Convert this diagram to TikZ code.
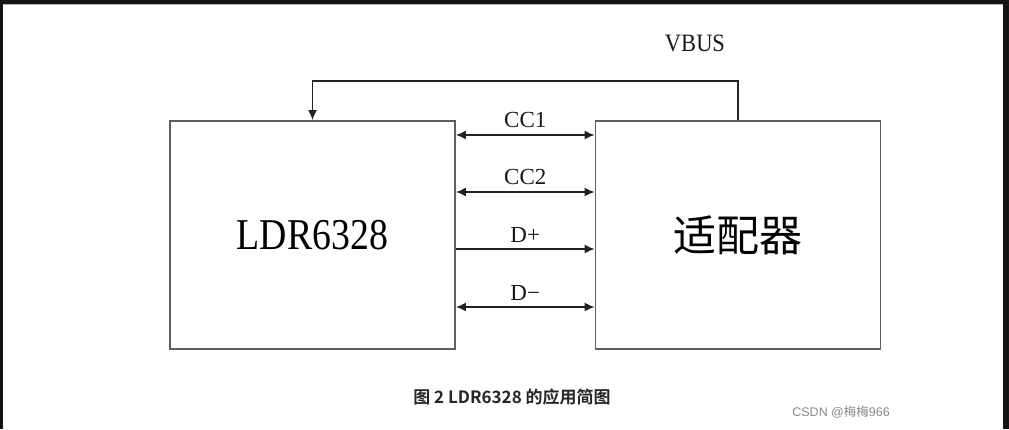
\documentclass[tikz,border=0pt]{standalone}
\usepackage{fontspec}
\setmainfont{Liberation Serif}
\newfontfamily\cjk{Noto Sans CJK SC}
\newfontfamily\cjkb{Noto Sans CJK SC Bold}
\newfontfamily\wmfont{Liberation Sans}
\usetikzlibrary{arrows.meta}
\definecolor{boxgray}{HTML}{5E5E5E}
\definecolor{linedark}{HTML}{222222}
\definecolor{frame}{HTML}{141414}
\definecolor{wm}{HTML}{8A8A8A}
\tikzset{
  blockbox/.style={draw=boxgray, line width=1.8pt, minimum width=285pt, minimum height=228pt, inner sep=0pt},
  sig/.style={draw=linedark, line width=1.6pt},
  lbl/.style={font=\fontsize{23}{23}\selectfont, inner sep=0pt, text=black!90},
  twoway/.style={{Latex[length=10pt,width=9pt]}-{Latex[length=10pt,width=9pt]}},
  oneway/.style={-{Latex[length=10pt,width=9pt]}}
}
\begin{document}
\begin{tikzpicture}[x=1pt,y=-1pt]
\useasboundingbox (0,0) rectangle (1009,429);
\fill[white] (0,0) rectangle (1009,429);
\fill[frame] (0,0) rectangle (1009,4);
\fill[frame] (0,0) rectangle (3,429);
\fill[frame] (1003,0) rectangle (1009,429);
\draw[gray!60, line width=0.6pt] (3,4.5) -- (1003,4.5);

\node[blockbox] (L) at (312.5,235) {\fontsize{44}{44}\selectfont\scalebox{0.86}[1]{LDR6328}};
\node[blockbox] (R) at (738,235) {\cjk\fontsize{43}{43}\selectfont 适配器};

\coordinate (y1) at (0,135);
\coordinate (y2) at (0,192);
\coordinate (y3) at (0,249);
\coordinate (y4) at (0,307);

\draw[sig, twoway] (L.east |- y1) -- (R.west |- y1) node[lbl, midway, above=6pt] (c1) {CC1};
\draw[sig, twoway] (L.east |- y2) -- (R.west |- y2) node[lbl, midway, above=6pt] (c2) {CC2};
\draw[sig, oneway] (L.east |- y3) -- (R.west |- y3) node[lbl, midway, above=6pt] (dp) {D+};
\draw[sig, twoway] (L.east |- y4) -- (R.west |- y4) node[lbl, midway, above=6pt] (dm) {D\textminus};

\draw[sig, oneway] (R.north) -- ++(0,-39) -| (L.north);
\node[lbl, font=\fontsize{25}{25}\selectfont] (vbus) at (695,43) {\scalebox{0.9}[1]{VBUS}};

\node[inner sep=0pt, font=\cjkb\fontsize{17}{17}\selectfont, text=black!85] (cap) at (512,397) {图 2 LDR6328 的应用简图};
\node[inner sep=0pt, font=\fontsize{12.5}{12.5}\selectfont, text=wm, anchor=east] (wmk) at (890,412) {\wmfont CSDN @\cjk 梅梅\wmfont 966};
\end{tikzpicture}
\end{document}
